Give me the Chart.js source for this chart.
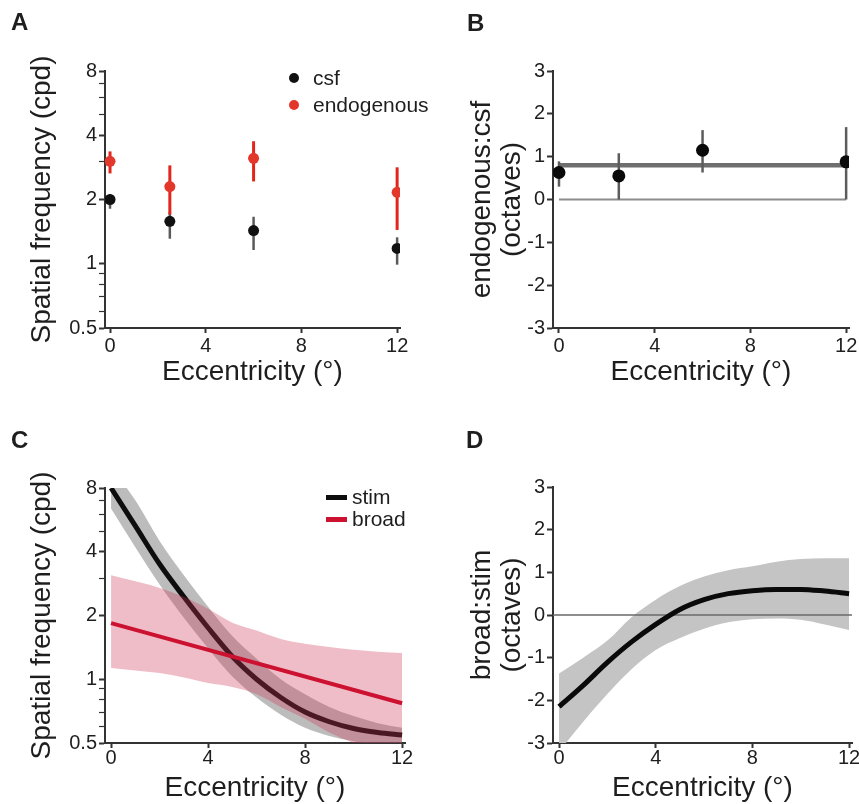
<!DOCTYPE html>
<html>
<head>
<meta charset="utf-8">
<title>Spatial frequency vs eccentricity</title>
<script src="https://cdn.jsdelivr.net/npm/chart.js@4.4.1/dist/chart.umd.min.js"></script>
<style>
  body { margin: 0; background: #fff; overflow: hidden; }
  #fig { position: relative; width: 859px; height: 804px; font-family: "Liberation Sans", Arial, sans-serif; color: #1e1e1e; }
  .panel { position: absolute; }
  .letter { position: absolute; font-weight: bold; font-size: 24px; line-height: 24px; }
  .row { position: absolute; display: flex; align-items: center; height: 24px; font-size: 21px; line-height: 24px; white-space: nowrap; }
  .dot { width: 10px; height: 10px; border-radius: 50%; margin-right: 14px; }
  .seg { width: 21px; height: 5px; margin-right: 5px; }
</style>
</head>
<body>
<div id="fig">
  <canvas class="panel" id="chartA" width="430" height="400" style="left:0;top:0"></canvas>
  <canvas class="panel" id="chartB" width="429" height="400" style="left:430px;top:0"></canvas>
  <canvas class="panel" id="chartC" width="430" height="404" style="left:0;top:400px"></canvas>
  <canvas class="panel" id="chartD" width="429" height="404" style="left:430px;top:400px"></canvas>

  <div class="letter" style="left:11px;top:10px">A</div>
  <div class="letter" style="left:467px;top:11px">B</div>
  <div class="letter" style="left:11px;top:428px">C</div>
  <div class="letter" style="left:466px;top:428px">D</div>

  <div class="row" style="left:289px;top:66px"><span class="dot" style="background:#111"></span>csf</div>
  <div class="row" style="left:289px;top:93px"><span class="dot" style="background:#e3372c"></span>endogenous</div>

  <div class="row" style="left:326px;top:485px"><span class="seg" style="background:#0d0d0d"></span>stim</div>
  <div class="row" style="left:326px;top:507px"><span class="seg" style="background:#cc1230"></span>broad</div>
</div>

<script>
// ----------------------------------------
// data
// ----------------------------------------
const eccPoints = [0, 2.5, 6, 12];

// panel A (cpd)
const csfFreq  = [2.0, 1.58, 1.43, 1.18];
const csfLow   = [1.81, 1.31, 1.16, 0.99];
const csfHigh  = [2.12, 1.75, 1.66, 1.33];
const endoFreq = [3.02, 2.3, 3.12, 2.16];
const endoLow  = [2.65, 1.7, 2.43, 1.44];
const endoHigh = [3.36, 2.89, 3.75, 2.83];

// panel B (octaves)
const ratioOct  = [0.63, 0.55, 1.15, 0.88];
const ratioLow  = [0.3, 0.0, 0.63, 0.0];
const ratioHigh = [0.89, 1.08, 1.62, 1.69];
const ratioMean = 0.8;

// panel C (cpd)
const eccCurve  = [0, 1, 2, 3, 4, 5, 6, 7, 8, 9, 10, 11, 12];
const stimFreq  = [8.0, 5.3, 3.5, 2.45, 1.75, 1.28, 1.0, 0.82, 0.7, 0.63, 0.585, 0.56, 0.545];
const stimLow   = [6.4, 4.2, 2.8, 1.95, 1.4, 1.03, 0.82, 0.68, 0.59, 0.54, 0.51, 0.49, 0.48];
const stimHigh  = [10, 7.0, 4.5, 3.1, 2.2, 1.6, 1.25, 1.0, 0.85, 0.74, 0.67, 0.62, 0.59];
const broadEcc  = [0, 12];
const broadFreq = [1.84, 0.77];
const broadLow  = [1.13, 1.1, 1.07, 1.02, 0.96, 0.92, 0.85, 0.74, 0.65, 0.56, 0.5, 0.45, 0.42];
const broadHigh = [3.1, 2.9, 2.7, 2.45, 2.15, 1.85, 1.7, 1.55, 1.47, 1.42, 1.38, 1.35, 1.33];

// panel D (octaves)
const diffOct  = [-2.15, -1.65, -1.11, -0.63, -0.22, 0.13, 0.36, 0.5, 0.57, 0.6, 0.6, 0.56, 0.5];
const diffLow  = [-3.2, -2.5, -1.85, -1.27, -0.82, -0.54, -0.32, -0.17, -0.1, -0.08, -0.11, -0.22, -0.35];
const diffHigh = [-1.37, -1.0, -0.6, -0.05, 0.36, 0.68, 0.9, 1.05, 1.14, 1.25, 1.31, 1.33, 1.33];

// ticks
const eccTicks   = [0, 4, 8, 12];
const freqTicks  = [0.5, 0.6, 0.7, 0.8, 0.9, 1, 2, 3, 4, 5, 6, 7, 8];
const freqLabels = [0.5, 1, 2, 4, 8];
const octTicks   = [-3, -2, -1, 0, 1, 2, 3];
const eccMax = 12.12;

// ----------------------------------------
// shared styling
// ----------------------------------------
const AXIS = "#333";
const TEXT = "#1e1e1e";
Chart.defaults.font.family = '"Liberation Sans", Arial, sans-serif';

const pts = (xs, ys) => xs.map((x, i) => ({ x, y: ys[i] }));

function errorBars(xs, lo, hi, color, width, order) {
    return xs.map((x, i) => ({
        data: [{ x, y: lo[i] }, { x, y: hi[i] }],
        showLine: true,
        borderColor: color,
        borderWidth: width,
        pointRadius: 0,
        order
    }));
}

function xAxis(min, height, tickPad, titlePad) {
    return {
        type: "linear",
        min, max: eccMax,
        afterBuildTicks: s => { s.ticks = eccTicks.map(v => ({ value: v })); },
        afterFit: s => { s.height = height; s.paddingLeft = 0; s.paddingRight = 0; },
        grid: { drawOnChartArea: false, tickLength: 5, tickWidth: 2, tickColor: AXIS },
        border: { color: AXIS, width: 2 },
        ticks: { color: TEXT, font: { size: 20, lineHeight: 1 }, padding: tickPad, maxRotation: 0, autoSkip: false },
        title: {
            display: true, text: "Eccentricity (°)", color: TEXT,
            font: { size: 28, lineHeight: 1 }, padding: { top: 0, bottom: titlePad }
        }
    };
}

function freqAxis(width) {
    return {
        type: "logarithmic",
        min: 0.5, max: 8,
        afterBuildTicks: s => { s.ticks = freqTicks.map(v => ({ value: v })); },
        afterFit: s => { s.width = width; s.paddingTop = 0; s.paddingBottom = 0; },
        grid: {
            drawOnChartArea: false, tickLength: 6, tickColor: AXIS,
            tickWidth: c => (c.tick && freqLabels.includes(c.tick.value)) ? 2 : 1.2
        },
        border: { color: AXIS, width: 2 },
        ticks: {
            color: TEXT, font: { size: 20 }, padding: 2, autoSkip: false,
            callback: v => freqLabels.includes(v) ? String(v) : ""
        },
        title: {
            display: true, text: "Spatial frequency (cpd)", color: TEXT,
            font: { size: 28, lineHeight: 1.2 }, padding: { top: 25, bottom: 0 }
        }
    };
}

function octAxis(width, label) {
    return {
        type: "linear",
        min: -3, max: 3,
        afterBuildTicks: s => { s.ticks = octTicks.map(v => ({ value: v })); },
        afterFit: s => { s.width = width; s.paddingTop = 0; s.paddingBottom = 0; },
        grid: { drawOnChartArea: false, tickLength: 6, tickWidth: 2, tickColor: AXIS },
        border: { color: AXIS, width: 2 },
        ticks: { color: TEXT, font: { size: 20 }, padding: 2, autoSkip: false },
        title: {
            display: true, text: [label, "(octaves)"], color: TEXT,
            font: { size: 28, lineHeight: 1.05 }, padding: { top: 38, bottom: 0 }
        }
    };
}

function makeChart(id, datasets, scales, padding) {
    return new Chart(document.getElementById(id), {
        type: "scatter",
        data: { datasets },
        options: {
            responsive: false,
            animation: false,
            devicePixelRatio: 1,
            layout: { padding },
            plugins: { legend: { display: false }, tooltip: { enabled: false } },
            scales
        }
    });
}

// ----------------------------------------
// A: peak spatial frequency per eccentricity
// ----------------------------------------
makeChart("chartA", [
    { data: pts(eccPoints, endoFreq), pointRadius: 5.5, backgroundColor: "#e3372c", borderWidth: 0, order: 0 },
    { data: pts(eccPoints, csfFreq), pointRadius: 5.5, backgroundColor: "#111", borderWidth: 0, order: 1 },
    ...errorBars(eccPoints, endoLow, endoHigh, "#e2261c", 3, 2),
    ...errorBars(eccPoints, csfLow, csfHigh, "#5a5a5a", 2.5, 3)
], { x: xAxis(-0.21, 72, 3.5, 13.5), y: freqAxis(105) }, { left: 0, top: 71, right: 30, bottom: 0 });

// ----------------------------------------
// B: endogenous:csf ratio
// ----------------------------------------
makeChart("chartB", [
    { data: pts(eccPoints, ratioOct), pointRadius: 6.5, backgroundColor: "#0a0a0a", borderWidth: 0, order: 0 },
    ...errorBars(eccPoints, ratioLow, ratioHigh, "#5c5c5c", 2.5, 2),
    { data: pts([0, 12], [ratioMean, ratioMean]), showLine: true,
      borderColor: "#6e6e6e", borderWidth: 4.5, pointRadius: 0, order: 3 },
    { data: pts([0, 12], [0, 0]), showLine: true, borderColor: "#8c8c8c", borderWidth: 2, pointRadius: 0, order: 4 }
], { x: xAxis(-0.25, 72, 3.5, 13.5), y: octAxis(123, "endogenous:csf") }, { left: 0, top: 71, right: 10, bottom: 0 });

// ----------------------------------------
// C: fitted preferred frequency, stim vs broad
// ----------------------------------------
makeChart("chartC", [
    { data: pts(eccCurve, stimHigh), showLine: true, borderWidth: 0, pointRadius: 0, cubicInterpolationMode: "monotone",
      fill: "+1", backgroundColor: "rgba(95,95,95,0.42)", order: 3 },
    { data: pts(eccCurve, stimLow), showLine: true, borderWidth: 0, pointRadius: 0, cubicInterpolationMode: "monotone", order: 3 },
    { data: pts(eccCurve, stimFreq), showLine: true, borderColor: "#0d0d0d", borderWidth: 5, pointRadius: 0,
      cubicInterpolationMode: "monotone", order: 2 },
    { data: pts(eccCurve, broadHigh), showLine: true, borderWidth: 0, pointRadius: 0, cubicInterpolationMode: "monotone",
      fill: "+1", backgroundColor: "rgba(205,50,80,0.32)", order: 1 },
    { data: pts(eccCurve, broadLow), showLine: true, borderWidth: 0, pointRadius: 0, cubicInterpolationMode: "monotone", order: 1 },
    { data: pts(broadEcc, broadFreq), showLine: true, borderColor: "#cc1230", borderWidth: 4, pointRadius: 0, order: 0 }
], { x: xAxis(-0.25, 61, 0, 2), y: freqAxis(105) }, { left: 0, top: 88, right: 25, bottom: 0 });

// ----------------------------------------
// D: broad:stim difference
// ----------------------------------------
makeChart("chartD", [
    { data: pts(eccCurve, diffOct), showLine: true, borderColor: "#0a0a0a", borderWidth: 5, pointRadius: 0,
      cubicInterpolationMode: "monotone", order: 0 },
    { data: pts([-0.25, eccMax], [0, 0]), showLine: true, borderColor: "#6a6a6a", borderWidth: 1.5, pointRadius: 0, order: 1 },
    { data: pts(eccCurve, diffHigh), showLine: true, borderWidth: 0, pointRadius: 0, cubicInterpolationMode: "monotone",
      fill: "+1", backgroundColor: "#c4c4c4", order: 2 },
    { data: pts(eccCurve, diffLow), showLine: true, borderWidth: 0, pointRadius: 0, cubicInterpolationMode: "monotone", order: 2 }
], { x: xAxis(-0.25, 61, 0, 2), y: octAxis(123, "broad:stim") }, { left: 0, top: 87, right: 7, bottom: 0 });
</script>
</body>
</html>
